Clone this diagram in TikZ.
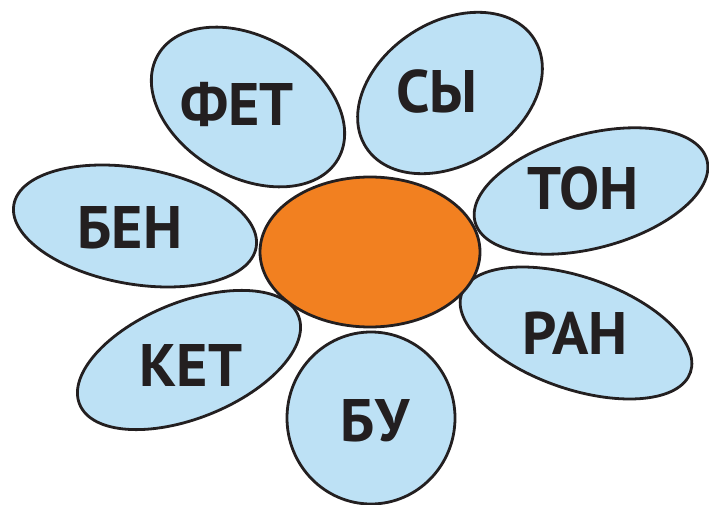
\documentclass[tikz,border=0pt]{standalone}
\usepackage{fontspec}
\setmainfont{PT Sans}
\definecolor{petal}{HTML}{BDE1F5}
\definecolor{core}{HTML}{F28020}
\definecolor{ink}{HTML}{231F20}
\begin{document}
\begin{tikzpicture}[x=1pt,y=-1pt,
  petalshape/.style={draw=ink,line width=2.8pt,fill=petal},
  coreshape/.style={draw=ink,line width=2.8pt,fill=core},
  word/.style={text=ink,font=\fontsize{60}{60}\selectfont\bfseries,inner sep=0pt,anchor=center}]
\useasboundingbox (0,0) rectangle (709,505);
% petals
\draw[petalshape,rotate around={-30:(248,107)}] (248,107) ellipse [x radius=104,y radius=70];
\draw[petalshape,rotate around={33:(450,93)}] (450,93) ellipse [x radius=100,y radius=71];
\draw[petalshape,rotate around={-10:(135,226)}] (135,226) ellipse [x radius=123,y radius=58];
\draw[petalshape,rotate around={15:(591,191)}] (591,191) ellipse [x radius=120,y radius=57];
\draw[petalshape,rotate around={-19:(576,333)}] (576,333) ellipse [x radius=121,y radius=56];
\draw[petalshape,rotate around={22:(189,360)}] (189,360) ellipse [x radius=118,y radius=58];
\draw[petalshape] (371,418) ellipse [x radius=84,y radius=86];
% core
\draw[coreshape] (370,252) ellipse [x radius=110,y radius=75];
% words
\node[word] (fet) at (237,105) {ФЕТ};
\node[word] (sy) at (437,92) {СЫ};
\node[word] (ben) at (130,228) {БЕН};
\node[word] (ton) at (583,188) {ТОН};
\node[word] (ran) at (575,333) {РАН};
\node[word] (ket) at (191,365) {КЕТ};
\node[word] (bu) at (375,421) {БУ};
\end{tikzpicture}
\end{document}
